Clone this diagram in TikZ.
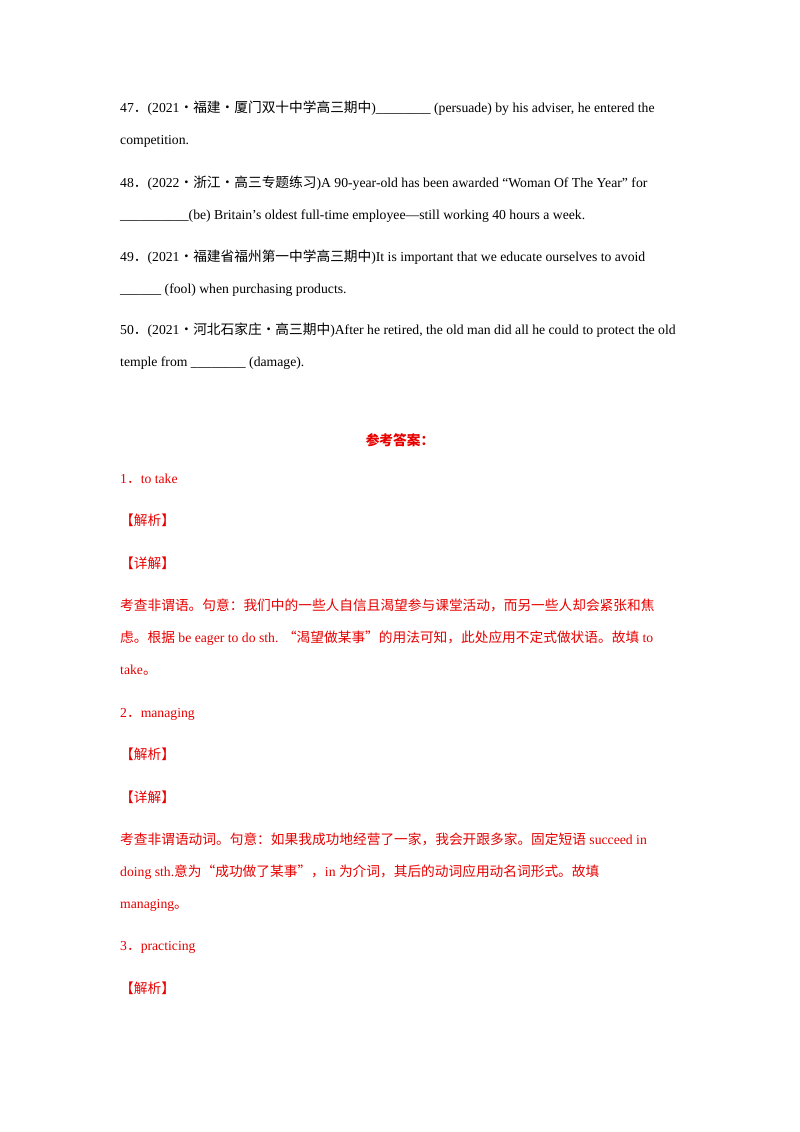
\documentclass[tikz,border=0pt]{standalone}
\usepackage{fontspec}
\setmainfont{Liberation Serif}
\newfontfamily\cjk{Noto Sans CJK SC}
\newcommand{\zh}[1]{{\cjk #1}}
\definecolor{ansred}{RGB}{230,0,0}
\begin{document}
\begin{tikzpicture}[x=1pt,y=-1pt,
  ln/.style={anchor=base west,inner sep=0pt,font=\fontsize{13.7}{16}\selectfont},
  rd/.style={ln,text=ansred}]
\useasboundingbox (0,0) rectangle (800,1132);
\node[ln] (l1) at (120,112) {47\zh{．}(2021\zh{·福建·厦门双十中学高三期中})\_\_\_\_\_\_\_\_ (persuade) by his adviser, he entered the};
\node[ln] (l2) at (120,144) {competition.};
\node[ln] (l3) at (120,187) {48\zh{．}(2022\zh{·浙江·高三专题练习})A 90-year-old has been awarded “Woman Of The Year” for};
\node[ln] (l4) at (120,219) {\_\_\_\_\_\_\_\_\_\_(be) Britain’s oldest full-time employee—still working 40 hours a week.};
\node[ln] (l5) at (120,261) {49\zh{．}(2021\zh{·福建省福州第一中学高三期中})It is important that we educate ourselves to avoid};
\node[ln] (l6) at (120,293) {\_\_\_\_\_\_ (fool) when purchasing products.};
\node[ln] (l7) at (120,334) {50\zh{．}(2021\zh{·河北石家庄·高三期中})After he retired, the old man did all he could to protect the old};
\node[ln] (l8) at (120,366) {temple from \_\_\_\_\_\_\_\_ (damage).};
\node[rd,anchor=base,font=\fontsize{13.7}{16}\selectfont\cjk\bfseries] (h) at (400,445) {参考答案：};
\node[rd] (a1) at (120,483) {1\zh{．}to take};
\node[rd] (a2) at (120,525) {\zh{【解析】}};
\node[rd] (a3) at (120,568) {\zh{【详解】}};
\node[rd] (a4) at (120,610) {\zh{考查非谓语。句意：我们中的一些人自信且渴望参与课堂活动，而另一些人却会紧张和焦}};
\node[rd] (a5) at (120,642) {\zh{虑。根据} be eager to do sth. \zh{“渴望做某事”的用法可知，此处应用不定式做状语。故填} to};
\node[rd] (a6) at (120,674) {take\zh{。}};
\node[rd] (b1) at (120,717) {2\zh{．}managing};
\node[rd] (b2) at (120,759) {\zh{【解析】}};
\node[rd] (b3) at (120,802) {\zh{【详解】}};
\node[rd] (b4) at (120,844) {\zh{考查非谓语动词。句意：如果我成功地经营了一家，我会开跟多家。固定短语} succeed in};
\node[rd] (b5) at (120,876) {doing sth.\zh{意为“成功做了某事”，}in \zh{为介词，其后的动词应用动名词形式。故填}};
\node[rd] (b6) at (120,908) {managing\zh{。}};
\node[rd] (c1) at (120,950) {3\zh{．}practicing};
\node[rd] (c2) at (120,993) {\zh{【解析】}};
\end{tikzpicture}
\end{document}
